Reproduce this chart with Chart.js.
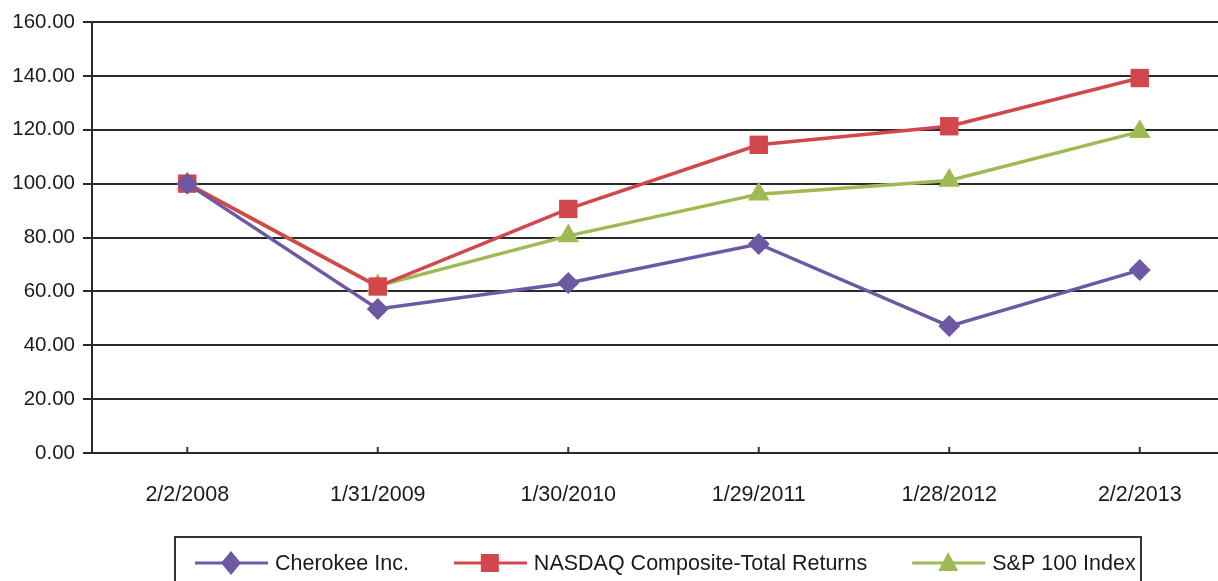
<!DOCTYPE html>
<html>
<head>
<meta charset="utf-8">
<script src="https://cdn.jsdelivr.net/npm/chart.js@4/dist/chart.umd.min.js"></script>
<style>
  html, body { margin: 0; padding: 0; background: #fff; overflow: hidden; }
  #wrap { width: 1248px; height: 581px; }
</style>
</head>
<body>
<div id="wrap"><canvas id="chart" width="1248" height="581"></canvas></div>
<script>
// Cumulative total return, base 100
const dates = ['2/2/2008', '1/31/2009', '1/30/2010', '1/29/2011', '1/28/2012', '2/2/2013'];
const cherokee = [100.00, 53.5, 63.1, 77.6, 47.1, 67.9];
const nasdaq = [100.00, 61.8, 90.6, 114.4, 121.3, 139.2];
const sp100 = [100.00, 62.0, 80.6, 96.1, 101.2, 119.3];
const yTicks = [0, 20, 40, 60, 80, 100, 120, 140, 160];

const FONT = "'Liberation Sans', Arial, Helvetica, sans-serif";
const TEXT = '#1a1a1a';

// draws the marker shapes used in the legend
function marker(ctx, style, x, y, color) {
    ctx.save();
    ctx.fillStyle = color;
    ctx.beginPath();
    if (style === 'rectRot') {
        ctx.moveTo(x, y - 12); ctx.lineTo(x + 10, y); ctx.lineTo(x, y + 12); ctx.lineTo(x - 10, y);
    } else if (style === 'rect') {
        ctx.rect(x - 9, y - 9, 18, 18);
    } else {
        ctx.moveTo(x, y - 11); ctx.lineTo(x + 10, y + 8); ctx.lineTo(x - 10, y + 8);
    }
    ctx.closePath();
    ctx.fill();
    ctx.restore();
}

// boxed legend at the bottom, line sample with marker in the middle
const boxLegend = {
    id: 'boxLegend',
    afterDraw(chart) {
        const ctx = chart.ctx;
        ctx.save();
        ctx.strokeStyle = '#333';
        ctx.lineWidth = 2;
        ctx.strokeRect(175, 537, 966, 80);
        ctx.font = '21.5px ' + FONT;
        ctx.textBaseline = 'middle';
        let x = 195;
        const y = 563;
        chart.data.datasets.forEach(ds => {
            ctx.strokeStyle = ds.borderColor;
            ctx.lineWidth = 3;
            ctx.beginPath();
            ctx.moveTo(x, y);
            ctx.lineTo(x + 73, y);
            ctx.stroke();
            marker(ctx, ds.pointStyle, x + 36, y, ds.borderColor);
            ctx.fillStyle = TEXT;
            ctx.fillText(ds.label, x + 80, y + 1);
            x += 80 + ctx.measureText(ds.label).width + 45;
        });
        ctx.restore();
    }
};

// small tick marks on the category axis, pointing up into the plot
const innerTicks = {
    id: 'innerTicks',
    afterDatasetsDraw(chart) {
        const ctx = chart.ctx;
        const xs = chart.scales.x;
        const bottom = chart.chartArea.bottom;
        ctx.save();
        ctx.strokeStyle = '#333';
        ctx.lineWidth = 2;
        dates.forEach((d, i) => {
            const px = xs.getPixelForValue(i);
            ctx.beginPath();
            ctx.moveTo(px, bottom);
            ctx.lineTo(px, bottom - 6);
            ctx.stroke();
        });
        ctx.restore();
    }
};

function series(label, data, color, style, radius) {
    return {
        label: label,
        data: data,
        borderColor: color,
        backgroundColor: color,
        pointBackgroundColor: color,
        pointBorderColor: color,
        pointStyle: style,
        pointRadius: radius,
        pointBorderWidth: 0,
        borderWidth: 3.5,
        tension: 0
    };
}

new Chart(document.getElementById('chart'), {
    type: 'line',
    data: {
        labels: dates,
        datasets: [
            series('Cherokee Inc.', cherokee, '#6E58A3', 'rectRot', 11),
            series('NASDAQ Composite-Total Returns', nasdaq, '#D2474C', 'rect', 13),
            series('S&P 100 Index', sp100, '#9DBB52', 'triangle', 12.5)
        ]
    },
    options: {
        responsive: false,
        animation: false,
        layout: { padding: { top: 22, right: 0, bottom: 0, left: 0 } },
        plugins: {
            legend: { display: false },
            tooltip: { enabled: false }
        },
        scales: {
            x: {
                offset: true,
                grid: { display: false },
                border: { display: false },
                ticks: {
                    color: TEXT,
                    font: { family: FONT, size: 21.5 },
                    padding: 21,
                    maxRotation: 0
                },
                afterFit(scale) { scale.height = 128; }
            },
            y: {
                min: 0,
                max: 160,
                afterBuildTicks(scale) { scale.ticks = yTicks.map(v => ({ value: v })); },
                grid: { color: '#2a2a2a', lineWidth: 2, tickLength: 9 },
                border: { color: '#2a2a2a', width: 2 },
                ticks: {
                    color: TEXT,
                    font: { family: FONT, size: 20.5 },
                    padding: 8,
                    callback: v => v.toFixed(2)
                },
                afterFit(scale) { scale.width = 92; }
            }
        }
    },
    plugins: [innerTicks, boxLegend]
});
</script>
</body>
</html>
